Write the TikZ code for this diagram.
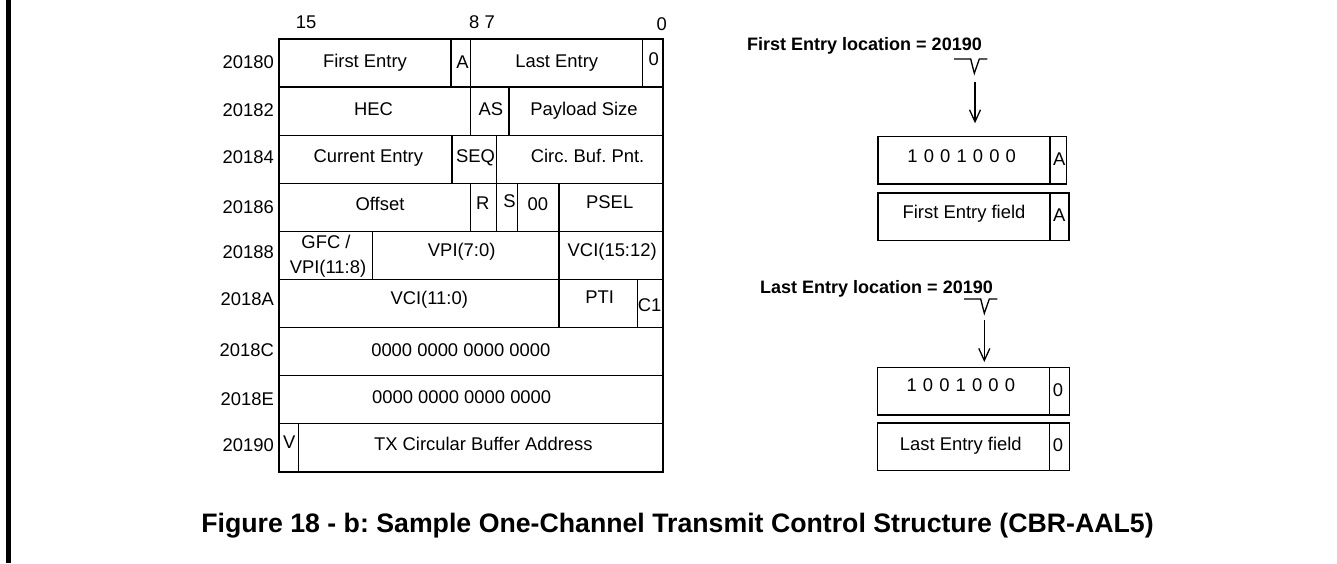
\documentclass[tikz,border=0pt]{standalone}
\usepackage{fontspec}
\setmainfont{Liberation Sans}
\usetikzlibrary{arrows.meta}
\newcommand\tf{\fontsize{18.4}{25}\selectfont}
\newcommand\hf{\fontsize{18}{21}\selectfont\bfseries}
\newcommand\cf{\fontsize{26.7}{30}\selectfont\bfseries}
\begin{document}
\frenchspacing
\begin{tikzpicture}[x=1pt,y=-1pt,
  cell/.style={draw=black, line width=1.3pt},
  txt/.style={inner sep=0pt, anchor=base, font=\tf},
  lbl/.style={inner sep=0pt, anchor=base east, font=\tf},
  hdr/.style={inner sep=0pt, anchor=base west, font=\hf},
  fieldbox/.style={cell, inner sep=0pt, anchor=north west},
  arr/.style={line width=1.3pt, -{Straight Barb[length=12pt,width=11pt,line width=1.3pt]}}]
\useasboundingbox (0,0) rectangle (1337,563);
\draw[line width=5pt] (8.5,0) -- (8.5,563);
% bit numbers
\node[txt] (b15) at (306,28.3) {15};
\node[txt] (b87) at (482,28.3) {8 7};
\node[txt] (b0) at (661.7,30) {0};
% row 1
\draw[cell] (279,39) rectangle (451,87.1);
\draw[cell] (451,39) rectangle (470.7,87.1);
\draw[cell] (470.7,39) rectangle (642.7,87.1);
\draw[cell] (642.7,39) rectangle (663,87.1);
\node[lbl] (r1) at (274,68.3) {20180};
\node[txt] (fe) at (365,67.3) {First Entry};
\node[txt] (fa) at (462.5,68.3) {A};
\node[txt] (le) at (556.7,67.3) {Last Entry};
\node[txt] (lz) at (653.8,65) {0};
% row 2
\draw[cell] (279,87.1) rectangle (470.7,135.2);
\draw[cell] (470.7,87.1) rectangle (509,135.2);
\draw[cell] (509,87.1) rectangle (663,135.2);
\node[lbl] (r2) at (274,116.5) {20182};
\node[txt] (hec) at (373.5,115.7) {HEC};
\node[txt] (as) at (490.8,115.7) {AS};
\node[txt] (ps) at (584,115.7) {Payload Size};
% row 3
\draw[cell] (279,135.2) rectangle (452,183.3);
\draw[cell] (452,135.2) rectangle (496.7,183.3);
\draw[cell] (496.7,135.2) rectangle (663,183.3);
\node[lbl] (r3) at (274,163.3) {20184};
\node[txt] (ce) at (368.3,162.7) {Current Entry};
\node[txt] (seq) at (475.5,162.7) {SEQ};
\node[txt] (cbp) at (587.5,162.7) {Circ. Buf. Pnt.};
% row 4
\draw[cell] (279,183.3) rectangle (470.7,231.4);
\draw[cell] (470.7,183.3) rectangle (496.7,231.4);
\draw[cell] (496.7,183.3) rectangle (517.7,231.4);
\draw[cell] (517.7,183.3) rectangle (559,231.4);
\draw[cell] (559,183.3) rectangle (663,231.4);
\node[lbl] (r4) at (274,213.3) {20186};
\node[txt] (off) at (380,210) {Offset};
\node[txt] (rr) at (482.8,209.3) {R};
\node[txt] (ss) at (509.5,207.3) {S};
\node[txt] (zz) at (537.8,210) {00};
\node[txt] (psel) at (609.7,208.3) {PSEL};
% row 5
\draw[cell] (279,231.4) rectangle (372.3,279.5);
\draw[cell] (372.3,231.4) rectangle (559,279.5);
\draw[cell] (559,231.4) rectangle (663,279.5);
\node[lbl] (r5) at (274,258.3) {20188};
\node[txt] (gfc1) at (326,248.3) {GFC /};
\node[txt] (gfc2) at (328,273.3) {VPI(11:8)};
\node[txt] (vpi) at (461.7,256.5) {VPI(7:0)};
\node[txt] (vci1) at (612.2,256.5) {VCI(15:12)};
% row 6
\draw[cell] (279,279.5) rectangle (559,327.6);
\draw[cell] (559,279.5) rectangle (637.7,327.6);
\draw[cell] (637.7,279.5) rectangle (663,327.6);
\node[lbl] (r6) at (274,305) {2018A};
\node[txt] (vci2) at (429.2,304) {VCI(11:0)};
\node[txt] (pti) at (599.7,303.3) {PTI};
\node[txt] (c1) at (649.7,311.7) {C1};
% row 7
\draw[cell] (279,327.6) rectangle (663,375.7);
\node[lbl] (r7) at (274,356.7) {2018C};
\node[txt] (z1) at (460.8,356.7) {0000 0000 0000 0000};
% row 8
\draw[cell] (279,375.7) rectangle (663,423.8);
\node[lbl] (r8) at (274,405) {2018E};
\node[txt] (z2) at (461.7,403.3) {0000 0000 0000 0000};
% row 9
\draw[cell] (279,423.8) rectangle (298.7,471.9);
\draw[cell] (298.7,423.8) rectangle (663,471.9);
\node[lbl] (r9) at (274,451.7) {20190};
\node[txt] (vv) at (289.3,448.3) {V};
\node[txt] (txc) at (483.3,450.7) {TX Circular Buffer Address};
% right: first entry
\node[hdr] (fh) at (747,50) {First Entry location = 20190};
\draw[cell] (954,59) -- (970.7,59) -- (974.3,73.3) -- (979.3,59) -- (987.3,59);
\node[fieldbox, minimum width=172pt, minimum height=47.3pt] (fb1) at (877.3,136) {};
\node[fieldbox, minimum width=16.4pt, minimum height=47.3pt] (fb1a) at (1049.3,136) {};
\node[fieldbox, minimum width=172pt, minimum height=47.7pt] (fb2) at (877.3,192.3) {};
\node[fieldbox, minimum width=19pt, minimum height=47.7pt] (fb2a) at (1049.3,192.3) {};
\node[txt] (fbits) at (961.7,162.3) {1\,\,0\,\,0\,\,1\,\,0\,\,0\,\,0};
\node[txt] (fbA) at (1059.2,165) {A};
\node[txt] (fftxt) at (964,218.3) {First Entry field};
\node[txt] (ffA) at (1059.2,221.7) {A};
\coordinate (fs) at (975,82);
\draw[arr, shorten >=12.7pt] (fs) -- (fs |- fb1.north);
% right: last entry
\node[hdr] (lh) at (760,293.3) {Last Entry location = 20190};
\draw[cell] (964,299) -- (980.7,299) -- (984.3,313.3) -- (989.3,299) -- (997.3,299);
\node[fieldbox, minimum width=172.3pt, minimum height=47.6pt] (lb1) at (876.7,366.7) {};
\node[fieldbox, minimum width=20pt, minimum height=47.6pt] (lb1a) at (1049,366.7) {};
\node[fieldbox, minimum width=172.3pt, minimum height=47.7pt] (lb2) at (876.7,422.3) {};
\node[fieldbox, minimum width=20pt, minimum height=47.7pt] (lb2a) at (1049,422.3) {};
\node[txt] (lbits) at (960.8,391.7) {1\,\,0\,\,0\,\,1\,\,0\,\,0\,\,0};
\node[txt] (lb0) at (1058,396.7) {0};
\node[txt] (lftxt) at (960.8,450) {Last Entry field};
\node[txt] (lf0) at (1058,451.7) {0};
\coordinate (ls) at (984.3,320);
\draw[arr, shorten >=4.7pt] (ls) -- (ls |- lb1.north);
% caption
\node[inner sep=0pt, anchor=base, font=\cf] (cap) at (677.5,532.3) {Figure 18 - b: Sample One-Channel Transmit Control Structure (CBR-AAL5)};
\end{tikzpicture}
\end{document}
